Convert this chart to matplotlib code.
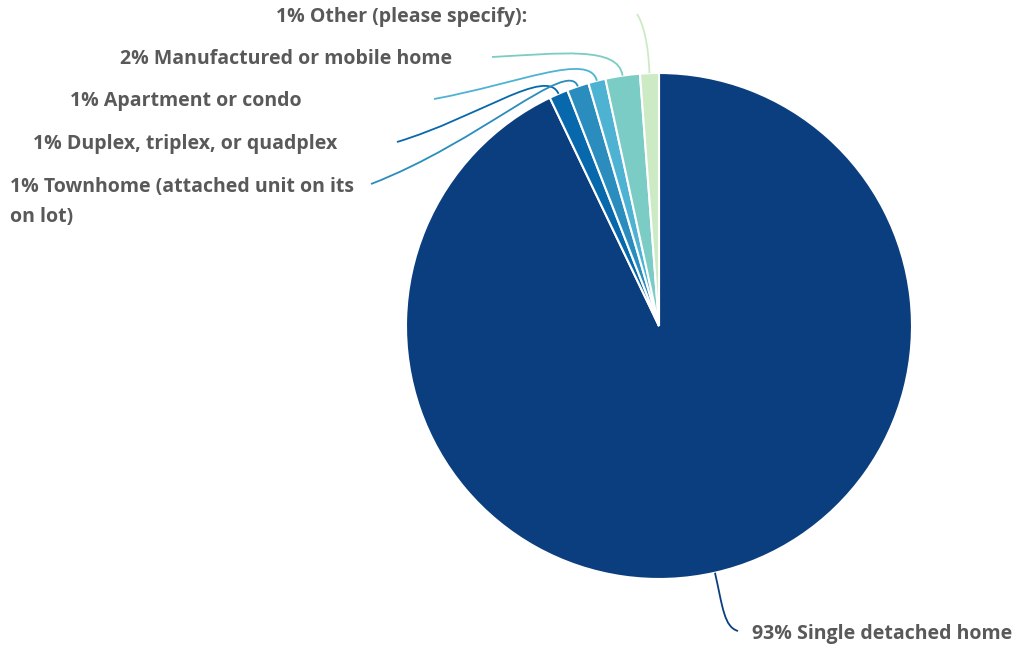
import numpy as np
import matplotlib
matplotlib.use("Agg")
import matplotlib.pyplot as plt
from matplotlib.path import Path
from matplotlib.patches import PathPatch

# slice order clockwise from 12 o'clock
labels = ["Single detached home", "Duplex, triplex, or quadplex",
          "Townhome (attached unit on its\non lot)", "Apartment or condo",
          "Manufactured or mobile home", "Other (please specify):"]
shares = [92.9, 1.2, 1.4, 1.1, 2.2, 1.2]
shown_pct = ["93%", "1%", "1%", "1%", "2%", "1%"]
colors = ["#0b3e7f", "#0868ac", "#2b8cbe", "#4eb3d3", "#7bccc4", "#ccebc5"]

W, H = 1016, 648
fig = plt.figure(figsize=(W / 100, H / 100), dpi=100)
ax = fig.add_axes([0, 0, 1, 1])

cx, cy, r = 659, H - 326, 253
wedges, _ = ax.pie(shares, colors=colors, startangle=90, counterclock=False,
                   center=(cx, cy), radius=r, frame=True,
                   wedgeprops=dict(edgecolor="white", linewidth=1.5))
ax.set_xlim(0, W)
ax.set_ylim(0, H)
ax.set_aspect("equal")
ax.axis("off")

# label anchor (text x, text y, ha) and where the leader starts
label_pos = [(752, H - 634, "left"), (337, H - 144, "right"),
             (10, H - 202, "left"), (302, H - 101, "right"),
             (452, H - 59, "right"), (527, H - 17, "right")]
line_start = [(738, H - 631), (397, H - 142), (371, H - 184),
              (434, H - 99), (492, H - 57), (637, H - 14)]

font = dict(family=["Open Sans", "DejaVu Sans"], fontweight="bold",
            fontsize=14, color="#595959")

for i, (w, lab, pct, col, (tx, ty, ha), (lx, ly)) in enumerate(zip(
        wedges, labels, shown_pct, colors, label_pos, line_start)):
    ang = np.deg2rad((w.theta1 + w.theta2) / 2)
    d = np.array([np.cos(ang), np.sin(ang)])
    p0 = np.array([cx, cy]) + r * d
    start = np.array([lx, ly])
    if i == 0:
        c2 = p0 + 35 * d
        c1 = start + np.array([-14, 4])
    elif lx < cx:
        c2 = p0 + 30 * d
        c1 = start + 0.55 * (c2 - start) * np.array([1, 0.6])
    else:
        c2 = p0 + 30 * d
        c1 = start + np.array([-10, 35])
    path = Path([start, c1, c2, p0],
                [Path.MOVETO, Path.CURVE4, Path.CURVE4, Path.CURVE4])
    ax.add_patch(PathPatch(path, fill=False, edgecolor=col, lw=1.3))
    ax.text(tx, ty, f"{pct} {lab}", ha=ha, va="center",
            linespacing=1.65, **font)

fig.savefig("out.png", dpi=100)
